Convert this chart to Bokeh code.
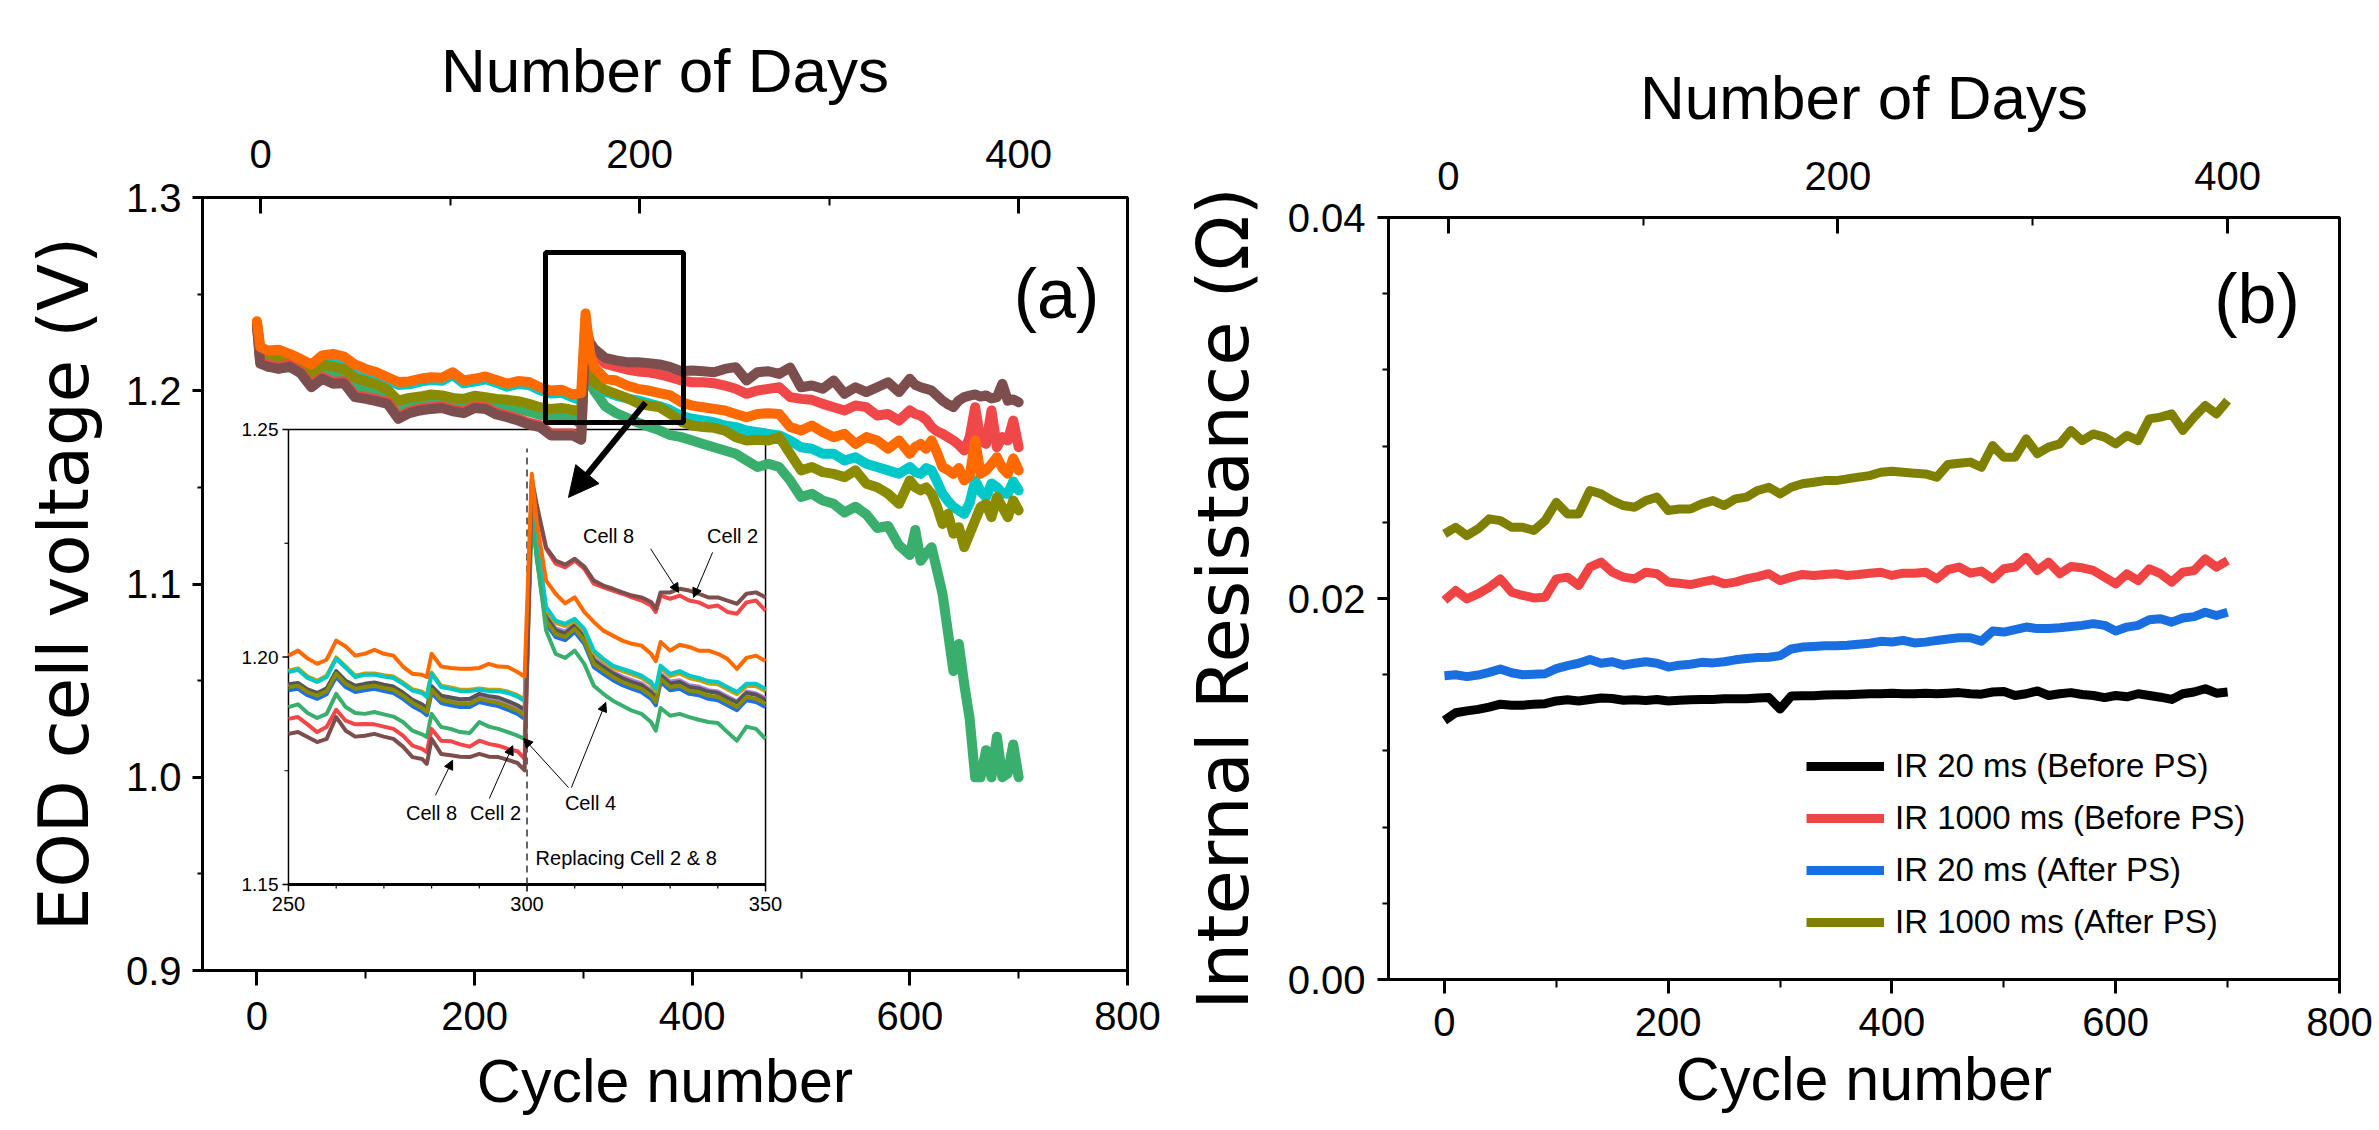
from bokeh.plotting import figure
from bokeh.models import (Range1d, LinearAxis, SingleIntervalTicker, NumeralTickFormatter,
                          Arrow, NormalHead, Legend, LegendItem, Label, Spacer)
from bokeh.layouts import row, column
from bokeh.embed import file_html
from bokeh.resources import INLINE
from bokeh.core.properties import value

SANS = "'Liberation Sans', Arial, sans-serif"
WIDE = "'DejaVu Sans', sans-serif"

# ---------------- panel (a): EOD cell voltage ----------------
CYCLES_A = [0, 3, 10, 20, 30, 40, 50, 60, 70, 80, 90, 100, 110, 120, 130, 140, 150, 160, 170, 180,
            190, 200, 210, 220, 230, 240, 250, 260, 270, 280, 290, 298, 302, 306, 310, 320, 330, 340,
            350, 360, 370, 380, 390, 400, 410, 420, 430, 440, 450, 460, 470, 480, 490, 500, 510, 520,
            530, 540, 550, 560, 570, 580, 590, 600, 605, 610, 615, 620, 625, 630, 635, 640, 645, 650,
            655, 660, 665, 670, 675, 680, 685, 690, 695, 700]

V_ORANGE = [1.2360, 1.2226, 1.2208, 1.2212, 1.2191, 1.2165, 1.2136, 1.2183, 1.2191, 1.2177, 1.2136,
            1.2113, 1.2096, 1.2070, 1.2045, 1.2048, 1.2062, 1.2070, 1.2067, 1.2096, 1.2053, 1.2062,
            1.2074, 1.2056, 1.2036, 1.2050, 1.2045, 1.2018, 1.2001, 1.2005, 1.1981, 1.1988, 1.2400,
            1.2200, 1.2122, 1.2062, 1.2053, 1.2027, 1.2010, 1.2001, 1.1988, 1.1976, 1.1941, 1.1923,
            1.1915, 1.1906, 1.1898, 1.1880, 1.1863, 1.1880, 1.1884, 1.1880, 1.1812, 1.1794, 1.1820,
            1.1786, 1.1760, 1.1777, 1.1725, 1.1760, 1.1743, 1.1700, 1.1743, 1.1674, 1.1710, 1.1725,
            1.1700, 1.1743, 1.1680, 1.1605, 1.1590, 1.1570, 1.1600, 1.1536, 1.1560, 1.1743, 1.1570,
            1.1588, 1.1620, 1.1656, 1.1600, 1.1570, 1.1650, 1.1588]
V_BROWN = [1.2340, 1.2140, 1.2125, 1.2113, 1.2125, 1.2091, 1.2018, 1.2062, 1.2036, 1.2039, 1.1967,
           1.1958, 1.1946, 1.1932, 1.1855, 1.1884, 1.1898, 1.1906, 1.1911, 1.1894, 1.1884, 1.1911,
           1.1906, 1.1877, 1.1863, 1.1846, 1.1825, 1.1812, 1.1769, 1.1769, 1.1769, 1.1746, 1.2330,
           1.2250, 1.2217, 1.2170, 1.2157, 1.2148, 1.2148, 1.2143, 1.2136, 1.2122, 1.2101, 1.2105,
           1.2101, 1.2096, 1.2113, 1.2122, 1.2053, 1.2096, 1.2101, 1.2087, 1.2120, 1.2018, 1.2027,
           1.2010, 1.2053, 1.1984, 1.2018, 1.1993, 1.2018, 1.2044, 1.1993, 1.2062, 1.2030, 1.2018,
           1.2010, 1.2001, 1.1975, 1.1949, 1.1930, 1.1915, 1.1950, 1.1967, 1.1975, 1.1981, 1.1970,
           1.1976, 1.1960, 1.1967, 1.2036, 1.1949, 1.1955, 1.1941]
V_RED = [1.2345, 1.2150, 1.2135, 1.2123, 1.2135, 1.2101, 1.2028, 1.2072, 1.2046, 1.2049, 1.1977,
         1.1968, 1.1956, 1.1942, 1.1865, 1.1894, 1.1908, 1.1916, 1.1921, 1.1904, 1.1894, 1.1921,
         1.1916, 1.1887, 1.1873, 1.1856, 1.1835, 1.1822, 1.1779, 1.1779, 1.1779, 1.1756, 1.2320,
         1.2230, 1.2195, 1.2140, 1.2125, 1.2110, 1.2100, 1.2095, 1.2085, 1.2070, 1.2053, 1.2044,
         1.2044, 1.2039, 1.2027, 1.2010, 1.1984, 1.2001, 1.2010, 1.2018, 1.1967, 1.1958, 1.1953,
         1.1932, 1.1915, 1.1898, 1.1924, 1.1915, 1.1872, 1.1880, 1.1846, 1.1898, 1.1880, 1.1872,
         1.1850, 1.1812, 1.1790, 1.1777, 1.1760, 1.1743, 1.1720, 1.1691, 1.1760, 1.1915, 1.1743,
         1.1725, 1.1898, 1.1708, 1.1760, 1.1743, 1.1846, 1.1708]
V_CYAN = [1.2345, 1.2211, 1.2193, 1.2197, 1.2176, 1.2150, 1.2121, 1.2168, 1.2176, 1.2162, 1.2121,
          1.2098, 1.2081, 1.2055, 1.2030, 1.2033, 1.2047, 1.2055, 1.2052, 1.2081, 1.2038, 1.2047,
          1.2059, 1.2041, 1.2021, 1.2035, 1.2030, 1.2003, 1.1986, 1.1990, 1.1966, 1.1950, 1.2370,
          1.2090, 1.2060, 1.1995, 1.1975, 1.1960, 1.1950, 1.1935, 1.1920, 1.1900, 1.1870, 1.1855,
          1.1846, 1.1837, 1.1820, 1.1812, 1.1794, 1.1786, 1.1777, 1.1769, 1.1743, 1.1708, 1.1700,
          1.1674, 1.1674, 1.1639, 1.1656, 1.1622, 1.1605, 1.1588, 1.1570, 1.1605, 1.1580, 1.1570,
          1.1600, 1.1588, 1.1530, 1.1467, 1.1430, 1.1398, 1.1380, 1.1363, 1.1420, 1.1536, 1.1480,
          1.1450, 1.1520, 1.1501, 1.1470, 1.1467, 1.1530, 1.1484]
V_OLIVE = [1.2350, 1.2220, 1.2160, 1.2157, 1.2160, 1.2136, 1.2087, 1.2136, 1.2125, 1.2113, 1.2067,
           1.2050, 1.2032, 1.2005, 1.1949, 1.1963, 1.1970, 1.1981, 1.1976, 1.1963, 1.1958, 1.1974,
           1.1967, 1.1958, 1.1953, 1.1946, 1.1932, 1.1915, 1.1906, 1.1911, 1.1901, 1.1894, 1.2320,
           1.2120, 1.2044, 1.2005, 1.1984, 1.1963, 1.1936, 1.1923, 1.1915, 1.1880, 1.1840, 1.1820,
           1.1812, 1.1808, 1.1794, 1.1760, 1.1743, 1.1746, 1.1743, 1.1760, 1.1674, 1.1588, 1.1605,
           1.1579, 1.1570, 1.1553, 1.1588, 1.1519, 1.1501, 1.1467, 1.1415, 1.1536, 1.1500, 1.1484,
           1.1500, 1.1467, 1.1400, 1.1311, 1.1363, 1.1260, 1.1294, 1.1191, 1.1260, 1.1329, 1.1398,
           1.1415, 1.1346, 1.1450, 1.1398, 1.1346, 1.1432, 1.1381]
V_GREEN = [1.2340, 1.2190, 1.2125, 1.2120, 1.2122, 1.2098, 1.2050, 1.2098, 1.2087, 1.2075, 1.2028,
           1.2012, 1.1994, 1.1966, 1.1912, 1.1925, 1.1932, 1.1942, 1.1938, 1.1925, 1.1920, 1.1936,
           1.1929, 1.1920, 1.1914, 1.1906, 1.1892, 1.1876, 1.1866, 1.1872, 1.1860, 1.1825, 1.2280,
           1.2040, 1.2000, 1.1920, 1.1885, 1.1860, 1.1835, 1.1815, 1.1795, 1.1770, 1.1760, 1.1743,
           1.1725, 1.1708, 1.1691, 1.1674, 1.1639, 1.1605, 1.1622, 1.1605, 1.1536, 1.1450, 1.1467,
           1.1432, 1.1415, 1.1370, 1.1400, 1.1360, 1.1290, 1.1300, 1.1200, 1.1150, 1.1280, 1.1120,
           1.1160, 1.1190, 1.1070, 1.0950, 1.0750, 1.0550, 1.0690, 1.0480, 1.0300, 1.0000, 1.0000,
           1.0140, 1.0000, 1.0210, 1.0000, 1.0020, 1.0170, 1.0000]

# inset (cycles 250-350)
CYCLES_IN = [250, 252, 254, 256, 258, 260, 262, 264, 266, 268, 270, 272, 274, 276, 278, 279, 280,
             282, 284, 286, 288, 290, 292, 294, 296, 298, 299.5, 301, 302, 304, 306, 308, 310, 312,
             314, 316, 318, 320, 322, 324, 326, 327, 328, 330, 332, 334, 336, 338, 340, 342, 344,
             346, 348, 350]
IN_ORANGE = [1.2003, 1.2014, 1.1997, 1.1985, 1.1994, 1.2036, 1.2023, 1.2003, 1.2007, 1.2016, 1.2007,
             1.2003, 1.1979, 1.1963, 1.1961, 1.1956, 1.2007, 1.1979, 1.1976, 1.1974, 1.1974, 1.1976,
             1.1985, 1.1979, 1.1978, 1.1967, 1.1957,
             1.2403, 1.2300, 1.2168, 1.2139, 1.2118, 1.2131, 1.2099, 1.2077, 1.2058, 1.2047, 1.2036,
             1.2029, 1.2025, 1.2007, 1.1991, 1.2033, 1.2014, 1.2027, 1.2022, 1.2014, 1.2014, 1.2007,
             1.1996, 1.1974, 1.1998, 1.2003, 1.1991]
IN_CYAN = [1.1967, 1.1972, 1.1954, 1.1945, 1.1956, 1.1996, 1.1976, 1.1956, 1.1961, 1.1961, 1.1957,
           1.1954, 1.1941, 1.1926, 1.1921, 1.1912, 1.1963, 1.1934, 1.1930, 1.1925, 1.1925, 1.1928,
           1.1925, 1.1925, 1.1921, 1.1913, 1.1903,
           1.2373, 1.2263, 1.2110, 1.2080, 1.2073, 1.2084, 1.2062, 1.2014, 1.1996, 1.1981, 1.1974,
           1.1967, 1.1959, 1.1945, 1.1930, 1.1981, 1.1963, 1.1969, 1.1959, 1.1954, 1.1947, 1.1945,
           1.1934, 1.1923, 1.1941, 1.1941, 1.1930]
IN_GOLD = [1.1970, 1.1975, 1.1957, 1.1948, 1.1959, 1.1999, 1.1979, 1.1959, 1.1964, 1.1964, 1.1960,
           1.1957, 1.1944, 1.1929, 1.1924, 1.1915, 1.1966, 1.1937, 1.1933, 1.1928, 1.1928, 1.1931,
           1.1928, 1.1928, 1.1924, 1.1916, 1.1906,
           1.2368, 1.2258, 1.2105, 1.2075, 1.2068, 1.2079, 1.2057, 1.2009, 1.1991, 1.1976, 1.1969,
           1.1962, 1.1954, 1.1940, 1.1925, 1.1976, 1.1958, 1.1964, 1.1954, 1.1949, 1.1942, 1.1940,
           1.1929, 1.1918, 1.1936, 1.1936, 1.1925]
IN_OLIVE = [1.1934, 1.1937, 1.1923, 1.1915, 1.1925, 1.1963, 1.1941, 1.1930, 1.1934, 1.1937, 1.1932,
            1.1928, 1.1915, 1.1899, 1.1888, 1.1879, 1.1928, 1.1906, 1.1901, 1.1897, 1.1897, 1.1908,
            1.1903, 1.1899, 1.1891, 1.1882, 1.1871,
            1.2337, 1.2227, 1.2080, 1.2051, 1.2044, 1.2062, 1.2036, 1.1985, 1.1970, 1.1956, 1.1945,
            1.1937, 1.1930, 1.1915, 1.1901, 1.1952, 1.1934, 1.1937, 1.1926, 1.1923, 1.1915, 1.1912,
            1.1901, 1.1890, 1.1912, 1.1908, 1.1897]
IN_GRAY = [1.1940, 1.1943, 1.1929, 1.1921, 1.1931, 1.1969, 1.1948, 1.1937, 1.1941, 1.1944, 1.1939,
           1.1935, 1.1922, 1.1906, 1.1896, 1.1887, 1.1936, 1.1915, 1.1911, 1.1907, 1.1908, 1.1919,
           1.1914, 1.1911, 1.1903, 1.1894, 1.1884,
           1.2345, 1.2235, 1.2088, 1.2059, 1.2052, 1.2070, 1.2044, 1.1993, 1.1978, 1.1964, 1.1953,
           1.1945, 1.1938, 1.1923, 1.1909, 1.1960, 1.1942, 1.1945, 1.1934, 1.1931, 1.1924, 1.1921,
           1.1910, 1.1900, 1.1921, 1.1917, 1.1906]
IN_PURPLE = [1.1938, 1.1941, 1.1927, 1.1919, 1.1929, 1.1966, 1.1945, 1.1934, 1.1938, 1.1941, 1.1936,
             1.1932, 1.1919, 1.1903, 1.1892, 1.1883, 1.1932, 1.1910, 1.1905, 1.1901, 1.1901, 1.1912,
             1.1907, 1.1903, 1.1895, 1.1886, 1.1875,
             1.2348, 1.2238, 1.2092, 1.2063, 1.2056, 1.2073, 1.2048, 1.1997, 1.1982, 1.1967, 1.1957,
             1.1949, 1.1942, 1.1927, 1.1913, 1.1963, 1.1946, 1.1949, 1.1938, 1.1935, 1.1927, 1.1924,
             1.1913, 1.1902, 1.1924, 1.1920, 1.1909]
IN_BLUE = [1.1927, 1.1930, 1.1916, 1.1908, 1.1918, 1.1956, 1.1934, 1.1923, 1.1927, 1.1930, 1.1925,
           1.1921, 1.1908, 1.1892, 1.1881, 1.1872, 1.1921, 1.1899, 1.1894, 1.1890, 1.1890, 1.1901,
           1.1896, 1.1892, 1.1884, 1.1875, 1.1864,
           1.2330, 1.2220, 1.2073, 1.2044, 1.2037, 1.2055, 1.2029, 1.1978, 1.1963, 1.1949, 1.1938,
           1.1930, 1.1923, 1.1908, 1.1894, 1.1945, 1.1927, 1.1930, 1.1919, 1.1916, 1.1908, 1.1905,
           1.1894, 1.1883, 1.1905, 1.1901, 1.1890]
IN_GREEN = [1.1890, 1.1896, 1.1877, 1.1866, 1.1875, 1.1919, 1.1890, 1.1877, 1.1875, 1.1879, 1.1874,
            1.1869, 1.1857, 1.1838, 1.1830, 1.1824, 1.1875, 1.1846, 1.1842, 1.1835, 1.1833, 1.1857,
            1.1847, 1.1842, 1.1835, 1.1827, 1.1820,
            1.2300, 1.2227, 1.2058, 1.2007, 1.1998, 1.2014, 1.1985, 1.1937, 1.1919, 1.1904, 1.1893,
            1.1882, 1.1875, 1.1857, 1.1838, 1.1888, 1.1871, 1.1875, 1.1868, 1.1862, 1.1857, 1.1855,
            1.1835, 1.1816, 1.1847, 1.1842, 1.1820]
IN_RED = [1.1864, 1.1868, 1.1852, 1.1835, 1.1846, 1.1884, 1.1860, 1.1852, 1.1853, 1.1852, 1.1847,
          1.1842, 1.1827, 1.1805, 1.1798, 1.1791, 1.1842, 1.1816, 1.1815, 1.1808, 1.1803, 1.1816,
          1.1809, 1.1805, 1.1798, 1.1793, 1.1776,
          1.2385, 1.2330, 1.2238, 1.2205, 1.2197, 1.2212, 1.2194, 1.2161, 1.2153, 1.2146, 1.2139,
          1.2131, 1.2124, 1.2113, 1.2099, 1.2135, 1.2128, 1.2135, 1.2124, 1.2120, 1.2110, 1.2113,
          1.2099, 1.2095, 1.2120, 1.2124, 1.2102]
IN_BROWN = [1.1831, 1.1835, 1.1824, 1.1813, 1.1820, 1.1868, 1.1838, 1.1825, 1.1827, 1.1831, 1.1825,
            1.1820, 1.1803, 1.1780, 1.1776, 1.1765, 1.1820, 1.1787, 1.1784, 1.1781, 1.1780, 1.1787,
            1.1781, 1.1780, 1.1774, 1.1767, 1.1751,
            1.2392, 1.2337, 1.2241, 1.2212, 1.2203, 1.2216, 1.2199, 1.2168, 1.2157, 1.2150, 1.2142,
            1.2135, 1.2131, 1.2121, 1.2106, 1.2142, 1.2142, 1.2150, 1.2146, 1.2139, 1.2131, 1.2131,
            1.2124, 1.2117, 1.2139, 1.2142, 1.2131]

INSET_XLIM = [250, 350]
INSET_YLIM = [1.15, 1.25]
INSET_XTICKS = [250, 300, 350]
INSET_XTICK_LABELS = ["250", "300", "350"]
INSET_XMINOR = [260, 270, 280, 290, 310, 320, 330, 340]
INSET_YTICKS = [1.15, 1.20, 1.25]
INSET_YTICK_LABELS = ["1.15", "1.20", "1.25"]
INSET_YMINOR = [1.175, 1.225]
REPLACE_X = [300, 300]
REPLACE_Y = [1.15, 1.2458]
CELL_TEXT = ["Cell 8", "Cell 2", "Cell 4", "Cell 8", "Cell 2"]
CELL_TEXT_X = [280.0, 293.4, 313.3, 317.1, 343.1]
CELL_TEXT_Y = [1.1658, 1.1658, 1.1680, 1.2267, 1.2267]
CELL_ARROWS = [(280.8, 1.1696, 284.4, 1.1773), (292.1, 1.1689, 297.0, 1.1805),
               (308.7, 1.1713, 299.3, 1.1821), (309.3, 1.1713, 316.5, 1.1900),
               (325.9, 1.2238, 331.8, 1.2142), (338.9, 1.2230, 334.9, 1.2131)]
ZOOM_BOX = dict(left=265.2, right=392.0, bottom=1.1836, top=1.2715)
ZOOM_ARROW = (357.1, 1.1939, 286.3, 1.1448)

# ---------------- panel (b): internal resistance ----------------
CYCLES_B = [0, 10, 20, 30, 40, 50, 60, 70, 80, 90, 100, 110, 120, 130, 140, 150, 160, 170, 180, 190,
            200, 210, 220, 230, 240, 250, 260, 270, 280, 290, 300, 310, 320, 330, 340, 350, 360, 370,
            380, 390, 400, 410, 420, 430, 440, 450, 460, 470, 480, 490, 500, 510, 520, 530, 540, 550,
            560, 570, 580, 590, 600, 610, 620, 630, 640, 650, 660, 670, 680, 690, 700]
IR20_BEFORE = [0.01360, 0.01400, 0.01410, 0.01418, 0.01430, 0.01445, 0.01440, 0.01440, 0.01445,
               0.01448, 0.01462, 0.01468, 0.01462, 0.01470, 0.01478, 0.01475, 0.01466, 0.01468,
               0.01465, 0.01470, 0.01462, 0.01466, 0.01468, 0.01470, 0.01470, 0.01474, 0.01474,
               0.01474, 0.01478, 0.01480, 0.01420, 0.01488, 0.01490, 0.01490, 0.01493, 0.01495,
               0.01495, 0.01498, 0.01500, 0.01500, 0.01503, 0.01500, 0.01500, 0.01503, 0.01500,
               0.01503, 0.01506, 0.01500, 0.01498, 0.01509, 0.01512, 0.01491, 0.01500, 0.01515,
               0.01491, 0.01500, 0.01506, 0.01496, 0.01491, 0.01480, 0.01491, 0.01484, 0.01500,
               0.01491, 0.01482, 0.01470, 0.01500, 0.01509, 0.01526, 0.01503, 0.01509]
IR1000_BEFORE = [0.01990, 0.02042, 0.01998, 0.02024, 0.02059, 0.02103, 0.02033, 0.02016, 0.02003,
                 0.02007, 0.02103, 0.02112, 0.02068, 0.02165, 0.02191, 0.02138, 0.02112, 0.02103,
                 0.02138, 0.02130, 0.02086, 0.02080, 0.02073, 0.02086, 0.02098, 0.02077, 0.02086,
                 0.02103, 0.02115, 0.02130, 0.02094, 0.02112, 0.02126, 0.02121, 0.02126, 0.02130,
                 0.02121, 0.02126, 0.02133, 0.02138, 0.02121, 0.02133, 0.02133, 0.02138, 0.02103,
                 0.02151, 0.02165, 0.02133, 0.02144, 0.02103, 0.02156, 0.02165, 0.02217, 0.02147,
                 0.02191, 0.02130, 0.02168, 0.02161, 0.02147, 0.02112, 0.02077, 0.02130, 0.02094,
                 0.02156, 0.02130, 0.02086, 0.02138, 0.02147, 0.02208, 0.02165, 0.02199]
IR20_AFTER = [0.01595, 0.01600, 0.01590, 0.01598, 0.01612, 0.01630, 0.01610, 0.01600, 0.01602,
              0.01605, 0.01632, 0.01648, 0.01660, 0.01680, 0.01660, 0.01668, 0.01650, 0.01660,
              0.01668, 0.01660, 0.01640, 0.01650, 0.01655, 0.01665, 0.01662, 0.01668, 0.01678,
              0.01685, 0.01690, 0.01692, 0.01700, 0.01735, 0.01745, 0.01748, 0.01752, 0.01752,
              0.01755, 0.01760, 0.01765, 0.01775, 0.01772, 0.01780, 0.01767, 0.01771, 0.01780,
              0.01787, 0.01794, 0.01794, 0.01776, 0.01829, 0.01824, 0.01837, 0.01850, 0.01842,
              0.01842, 0.01846, 0.01853, 0.01859, 0.01868, 0.01859, 0.01829, 0.01850, 0.01859,
              0.01889, 0.01894, 0.01876, 0.01898, 0.01905, 0.01928, 0.01911, 0.01928]
IR1000_AFTER = [0.02339, 0.02374, 0.02330, 0.02365, 0.02418, 0.02409, 0.02374, 0.02374, 0.02357,
                0.02409, 0.02505, 0.02444, 0.02444, 0.02567, 0.02549, 0.02514, 0.02488, 0.02479,
                0.02514, 0.02532, 0.02462, 0.02470, 0.02470, 0.02497, 0.02514, 0.02488, 0.02523,
                0.02532, 0.02567, 0.02584, 0.02549, 0.02584, 0.02602, 0.02610, 0.02619, 0.02619,
                0.02628, 0.02637, 0.02645, 0.02663, 0.02668, 0.02663, 0.02658, 0.02654, 0.02637,
                0.02703, 0.02710, 0.02716, 0.02689, 0.02803, 0.02742, 0.02742, 0.02838, 0.02760,
                0.02795, 0.02812, 0.02882, 0.02829, 0.02864, 0.02847, 0.02812, 0.02856, 0.02829,
                0.02943, 0.02952, 0.02969, 0.02882, 0.02952, 0.03013, 0.02969, 0.03039]
LEGEND_LABELS = ["IR 20 ms (Before PS)", "IR 1000 ms (Before PS)", "IR 20 ms (After PS)",
                 "IR 1000 ms (After PS)"]

# ---------------- shared settings ----------------
X_LIM = (-50, 800)
DAYS_LIM = (-30.7, 457.4)      # top axis: number of days
INSET_ON_MAIN_X = (29.0, 467.4)   # where cycles 250 / 350 of the inset sit on the main axis
INSET_ON_MAIN_Y = (0.9445, 1.17995)


def style_axis(ax, title_font, title_size, tin, tout, mtin, mtout, lab_so, title_so):
    ax.axis_line_color = "black"
    ax.axis_line_width = 3
    ax.major_tick_line_color = "black"
    ax.major_tick_line_width = 3
    ax.minor_tick_line_color = "black"
    ax.minor_tick_line_width = 2
    ax.major_tick_in = tin
    ax.major_tick_out = tout
    ax.minor_tick_in = mtin
    ax.minor_tick_out = mtout
    ax.major_label_text_font = SANS
    ax.major_label_text_font_size = "40px"
    ax.major_label_text_color = "black"
    ax.major_label_standoff = lab_so
    ax.axis_label_text_font = title_font
    ax.axis_label_text_font_size = title_size
    ax.axis_label_text_font_style = "normal"
    ax.axis_label_text_color = "black"
    ax.axis_label_standoff = title_so


def base_fig(ylim, fw, fh, bl, br, bt, bb):
    p = figure(frame_width=fw, frame_height=fh, x_range=Range1d(*X_LIM), y_range=Range1d(*ylim),
               output_backend="svg", toolbar_location=None,
               min_border_left=bl, min_border_right=br, min_border_top=bt, min_border_bottom=bb)
    p.xgrid.visible = False
    p.ygrid.visible = False
    p.outline_line_color = "black"
    p.outline_line_width = 3
    p.background_fill_color = "white"
    p.border_fill_color = "white"
    p.extra_x_ranges = {"days": Range1d(*DAYS_LIM)}
    top = LinearAxis(x_range_name="days", axis_label="Number of Days",
                     ticker=SingleIntervalTicker(interval=200, num_minor_ticks=2))
    p.add_layout(top, "above")
    xa = p.below[0]
    xa.ticker = SingleIntervalTicker(interval=200, num_minor_ticks=2)
    xa.axis_label = "Cycle number"
    return p, xa, top


# ================= panel (a) =================
p1, xa1, top1 = base_fig((0.9, 1.3), 925, 773, 202, 50, 197, 160)
style_axis(xa1, SANS, "61px", 0, 15, 0, 8, 16, 14)
style_axis(top1, SANS, "62px", 16, 0, 8, 0, 30, 32)
ya1 = p1.yaxis[0]
ya1.ticker = SingleIntervalTicker(interval=0.1, num_minor_ticks=2)
ya1.formatter = NumeralTickFormatter(format="0.0")
ya1.axis_label = "EOD cell voltage (V)"
style_axis(ya1, WIDE, "69px", 0, 10, 0, 5, 11, 19)

# inset coordinate system mapped onto the main frame
sxi = (INSET_XLIM[1] - INSET_XLIM[0]) / (INSET_ON_MAIN_X[1] - INSET_ON_MAIN_X[0])
syi = (INSET_YLIM[1] - INSET_YLIM[0]) / (INSET_ON_MAIN_Y[1] - INSET_ON_MAIN_Y[0])
p1.extra_x_ranges["ix"] = Range1d(INSET_XLIM[0] + (X_LIM[0] - INSET_ON_MAIN_X[0]) * sxi,
                                  INSET_XLIM[0] + (X_LIM[1] - INSET_ON_MAIN_X[0]) * sxi)
p1.extra_y_ranges = {"iy": Range1d(INSET_YLIM[0] + (0.9 - INSET_ON_MAIN_Y[0]) * syi,
                                   INSET_YLIM[0] + (1.3 - INSET_ON_MAIN_Y[0]) * syi)}
IN = dict(x_range_name="ix", y_range_name="iy")

p1.quad(left=[INSET_XLIM[0]], right=[INSET_XLIM[1]], bottom=[INSET_YLIM[0]], top=[INSET_YLIM[1]],
        fill_color=None, line_color="black", line_width=1.5, **IN)
p1.line([INSET_XLIM[0], INSET_XLIM[1]], [INSET_YLIM[0], INSET_YLIM[0]], line_color="black",
        line_width=3, **IN)
p1.ray(x=INSET_XTICKS, y=[INSET_YLIM[0]] * len(INSET_XTICKS), length=7, length_units="screen",
       angle=-1.5708, line_color="black", line_width=1.5, **IN)
p1.ray(x=INSET_XMINOR, y=[INSET_YLIM[0]] * len(INSET_XMINOR), length=4, length_units="screen",
       angle=-1.5708, line_color="black", line_width=1.2, **IN)
p1.ray(x=[INSET_XLIM[0]] * len(INSET_YTICKS), y=INSET_YTICKS, length=6, length_units="screen",
       angle=3.14159, line_color="black", line_width=1.5, **IN)
p1.ray(x=[INSET_XLIM[0]] * len(INSET_YMINOR), y=INSET_YMINOR, length=4, length_units="screen",
       angle=3.14159, line_color="black", line_width=1.2, **IN)
p1.text(x=INSET_XTICKS, y=[INSET_YLIM[0]] * 3, text=INSET_XTICK_LABELS, y_offset=12,
        text_align="center", text_baseline="top", text_font=value(SANS),
        text_font_size=value("20px"), text_color="black", **IN)
p1.text(x=[INSET_XLIM[0]] * 3, y=INSET_YTICKS, text=INSET_YTICK_LABELS, x_offset=-10,
        text_align="right", text_baseline="middle", text_font=value(SANS),
        text_font_size=value("19px"), text_color="black", **IN)
p1.line(REPLACE_X, REPLACE_Y, line_color="#333333", line_width=1.5, line_dash="7 5", **IN)

inset_series = [(IN_BLUE, "#1f6fe0"), (IN_PURPLE, "#b07ee0"), (IN_GRAY, "#555555"),
                (IN_OLIVE, "#8b8b00"), (IN_GOLD, "#c8a000"), (IN_CYAN, "#00c8c8"),
                (IN_GREEN, "#3aae6c"), (IN_RED, "#f04848"), (IN_BROWN, "#7d4e4e"),
                (IN_ORANGE, "#ff6a00")]
for ys, col in inset_series:
    p1.line(CYCLES_IN, ys, line_color=col, line_width=4, line_join="round", **IN)

p1.text(x=CELL_TEXT_X, y=CELL_TEXT_Y, text=CELL_TEXT, text_align="center", text_baseline="middle",
        text_font=value(SANS), text_font_size=value("20px"), text_color="black", **IN)
p1.text(x=[301.8], y=[1.1559], text=["Replacing Cell 2 & 8"], text_align="left",
        text_baseline="middle", text_font=value(SANS), text_font_size=value("20px"),
        text_color="black", **IN)
for xs, ys, xe, ye in CELL_ARROWS:
    p1.add_layout(Arrow(end=NormalHead(size=9, fill_color="black", line_color="black", line_width=1),
                        x_start=xs, y_start=ys, x_end=xe, y_end=ye, line_color="black",
                        line_width=1, x_range_name="ix", y_range_name="iy"))

main_series = [(V_GREEN, "#3aae6c"), (V_CYAN, "#00c8c8"), (V_OLIVE, "#8b8b00"), (V_RED, "#f04848"),
               (V_BROWN, "#7d4e4e"), (V_ORANGE, "#ff6a00")]
for ys, col in main_series:
    p1.line(CYCLES_A, ys, line_color=col, line_width=10, line_join="round", line_cap="round")

p1.quad(left=[ZOOM_BOX["left"]], right=[ZOOM_BOX["right"]], bottom=[ZOOM_BOX["bottom"]],
        top=[ZOOM_BOX["top"]], fill_color=None, line_color="black", line_width=5)
p1.add_layout(Arrow(end=NormalHead(size=30, fill_color="black", line_color="black"),
                    x_start=ZOOM_ARROW[0], y_start=ZOOM_ARROW[1], x_end=ZOOM_ARROW[2],
                    y_end=ZOOM_ARROW[3], line_color="black", line_width=6))
p1.add_layout(Label(x=734.8, y=1.2501, text="(a)", text_align="center", text_baseline="middle",
                    text_font=SANS, text_font_size="70px", text_color="black"))

# ================= panel (b) =================
p2, xa2, top2 = base_fig((0.0, 0.04), 951, 762, 211, 40, 197, 151)
style_axis(xa2, SANS, "61px", 0, 14, 0, 8, 14, 6)
style_axis(top2, SANS, "62px", 16, 0, 8, 0, 28, 27)
ya2 = p2.yaxis[0]
ya2.ticker = SingleIntervalTicker(interval=0.02, num_minor_ticks=5)
ya2.formatter = NumeralTickFormatter(format="0.00")
ya2.axis_label = "Internal Resistance (Ω)"
style_axis(ya2, WIDE, "72px", 0, 11, 0, 6, 12, 20)

renderers = []
for ys, col in [(IR20_BEFORE, "#000000"), (IR1000_BEFORE, "#f04444"), (IR20_AFTER, "#1a6fe0"),
                (IR1000_AFTER, "#808000")]:
    renderers.append(p2.line(CYCLES_B, ys, line_color=col, line_width=9, line_join="round"))

legend = Legend(items=[LegendItem(label=lab, renderers=[r]) for lab, r in zip(LEGEND_LABELS, renderers)],
                location=(418, 31), border_line_color=None, background_fill_alpha=0,
                padding=0, margin=0, spacing=0, glyph_width=78, glyph_height=52,
                label_height=52, label_standoff=11, label_text_font=SANS,
                label_text_font_size="33px", label_text_color="black")
p2.add_layout(legend)
p2.add_layout(Label(x=726.3, y=0.0357, text="(b)", text_align="center", text_baseline="middle",
                    text_font=SANS, text_font_size="70px", text_color="black"))

layout = row(p1, column(Spacer(width=1202, height=20), p2))
open("out.html", "w").write(file_html(layout, INLINE))
